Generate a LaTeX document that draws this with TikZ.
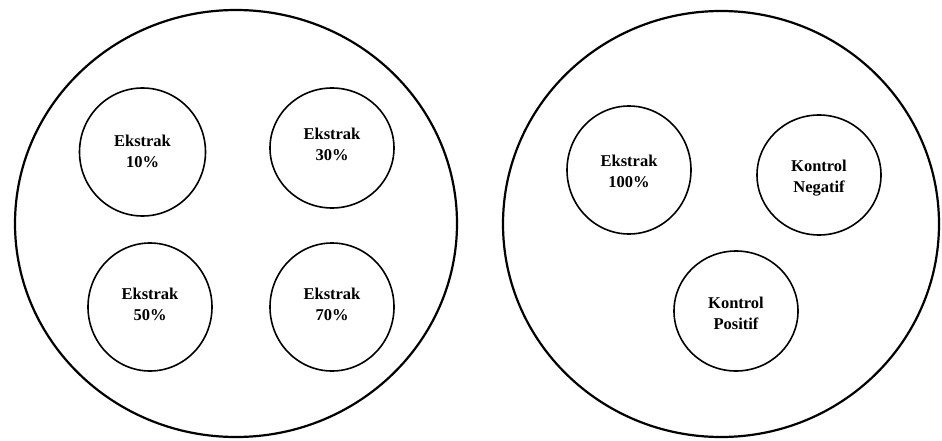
\documentclass[tikz,border=0pt]{standalone}
\usepackage{fontspec}
\setmainfont{Liberation Serif}
\begin{document}
\begin{tikzpicture}[x=1pt,y=-1pt,
  plate/.style={draw=black,line width=2.2pt},
  well/.style={draw=black,line width=1.6pt},
  lbl/.style={align=center,font=\fontsize{16.5}{21}\selectfont\bfseries,inner sep=0pt}]
\useasboundingbox (0,0) rectangle (942,441);
% plates
\draw[plate] (236,223.5) ellipse [x radius=221, y radius=213.5];
\draw[plate] (721,224) ellipse [x radius=218, y radius=213];
% wells
\draw[well] (142.5,152) ellipse [x radius=63, y radius=64];
\draw[well] (332,148) ellipse [x radius=62, y radius=60];
\draw[well] (150,307) ellipse [x radius=62, y radius=64];
\draw[well] (332,307) ellipse [x radius=62, y radius=64];
\draw[well] (629,170) ellipse [x radius=62, y radius=64];
\draw[well] (819,175) ellipse [x radius=62, y radius=60];
\draw[well] (736,311) ellipse [x radius=62, y radius=60];
% labels
\node[lbl] (e10) at (142.5,151) {Ekstrak\\10\%};
\node[lbl] (e30) at (332,144) {Ekstrak\\30\%};
\node[lbl] (e50) at (150,304) {Ekstrak\\50\%};
\node[lbl] (e70) at (332,304) {Ekstrak\\70\%};
\node[lbl] (e100) at (629,171) {Ekstrak\\100\%};
\node[lbl] (kn) at (819,178) {Kontrol\\Negatif};
\node[lbl] (kp) at (736,313) {Kontrol\\Positif};
\end{tikzpicture}
\end{document}
